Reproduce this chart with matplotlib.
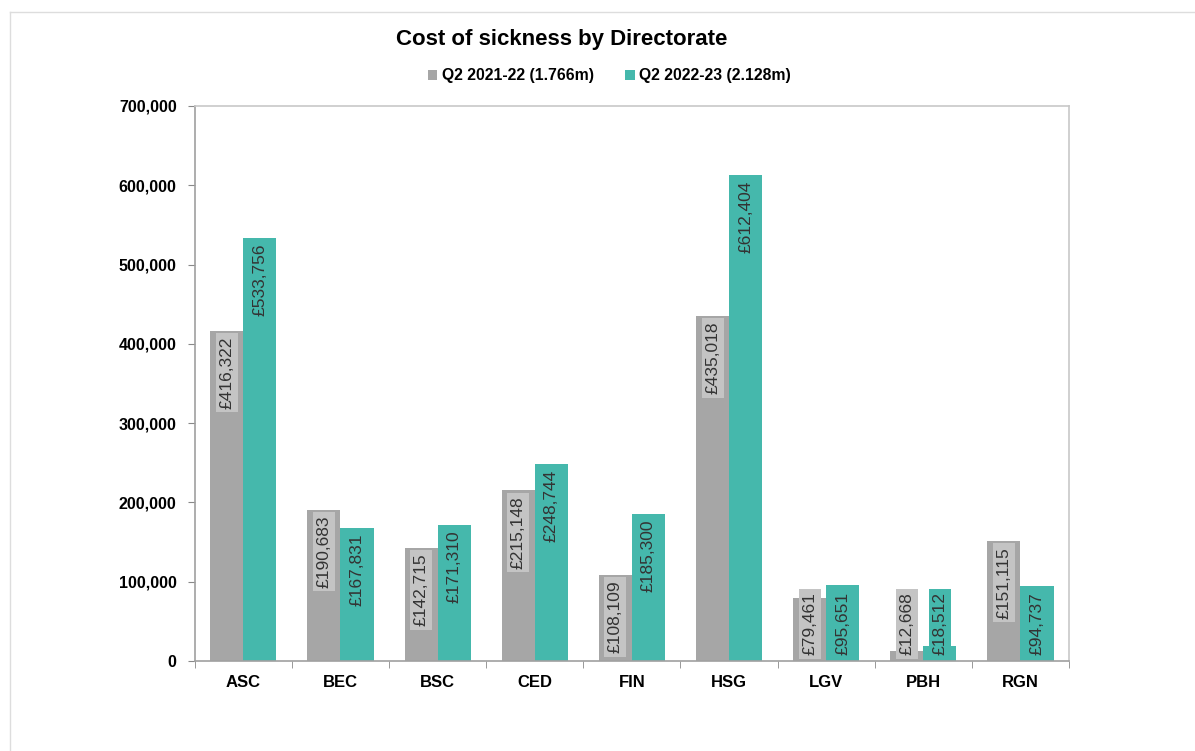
import numpy as np
import matplotlib
matplotlib.use("Agg")
from matplotlib import pyplot as plt
from matplotlib.lines import Line2D
from matplotlib.patches import Patch

# data
directorates = ["ASC", "BEC", "BSC", "CED", "FIN", "HSG", "LGV", "PBH", "RGN"]
q2_2021 = [416322, 190683, 142715, 215148, 108109, 435018, 79461, 12668, 151115]
q2_2022 = [533756, 167831, 171310, 248744, 185300, 612404, 95651, 18512, 94737]
series_names = ["Q2 2021-22 (1.766m)", "Q2 2022-23 (2.128m)"]

grey = "#A6A6A6"
teal = "#45B8AC"
grey_box = "#C4C4C4"

plt.rcParams['font.family'] = ['Liberation Sans', 'DejaVu Sans']

fig = plt.figure(figsize=(11.95, 7.51), dpi=100)

# faint spreadsheet grid behind the chart
fig.add_artist(Line2D([0.008, 1.0], [0.984, 0.984], color="#DDDDDD", lw=1))
fig.add_artist(Line2D([0.008, 0.008], [0.0, 0.984], color="#DDDDDD", lw=1))

ax = fig.add_axes([0.163, 0.1198, 0.7316, 0.7391])

x = np.arange(len(directorates))
w = 0.34
label_h = 92000  # approximate data extent of a rotated label

for vals, col, box, off in [(q2_2021, grey, grey_box, -w / 2),
                            (q2_2022, teal, teal, w / 2)]:
    ax.bar(x + off, vals, width=w, color=col, zorder=2)
    for xi, v in zip(x, vals):
        lab = "£{:,}".format(v)
        if v - 7000 > label_h:
            ax.text(xi + off, v - 7000, lab, rotation=90, ha="center", va="top",
                    fontsize=12.5, color="#333333", zorder=3,
                    bbox=dict(boxstyle="square,pad=0.2", fc=box, ec="none"))
        else:
            ax.text(xi + off, 7000, lab, rotation=90, ha="center", va="bottom",
                    fontsize=12.5, color="#333333", zorder=3,
                    bbox=dict(boxstyle="square,pad=0.2", fc=box, ec="none"))

ax.set_xlim(-0.5, len(directorates) - 0.5)
ax.set_ylim(0, 700000)
ax.set_yticks(np.arange(0, 700001, 100000))
ax.set_yticklabels(["{:,}".format(t) for t in range(0, 700001, 100000)],
                   fontsize=11.5, fontweight="bold")
ax.set_xticks(x)
ax.set_xticklabels(directorates, fontsize=12, fontweight="bold")
ax.tick_params(axis="x", length=0, pad=10)
ax.set_xticks(np.arange(-0.5, len(directorates), 1), minor=True)
ax.tick_params(axis="x", which="minor", length=5, color="#888888")
ax.tick_params(axis="y", length=5, color="#888888", pad=8)

for s in ax.spines.values():
    s.set_color("#A0A0A0")
    s.set_linewidth(1.2)
ax.spines["top"].set_color("#C8C8C8")
ax.spines["right"].set_color("#C8C8C8")

fig.text(0.47, 0.947, "Cost of sickness by Directorate", ha="center", va="center",
         fontsize=16, fontweight="bold")

handles = [Patch(facecolor=grey), Patch(facecolor=teal)]
fig.legend(handles, series_names, loc="center", bbox_to_anchor=(0.51, 0.899),
           ncol=2, frameon=False, handlelength=0.6, handleheight=0.6,
           handletextpad=0.3, columnspacing=2.0,
           prop={"size": 11.3, "weight": "bold"})

fig.savefig("out.png", dpi=100)
